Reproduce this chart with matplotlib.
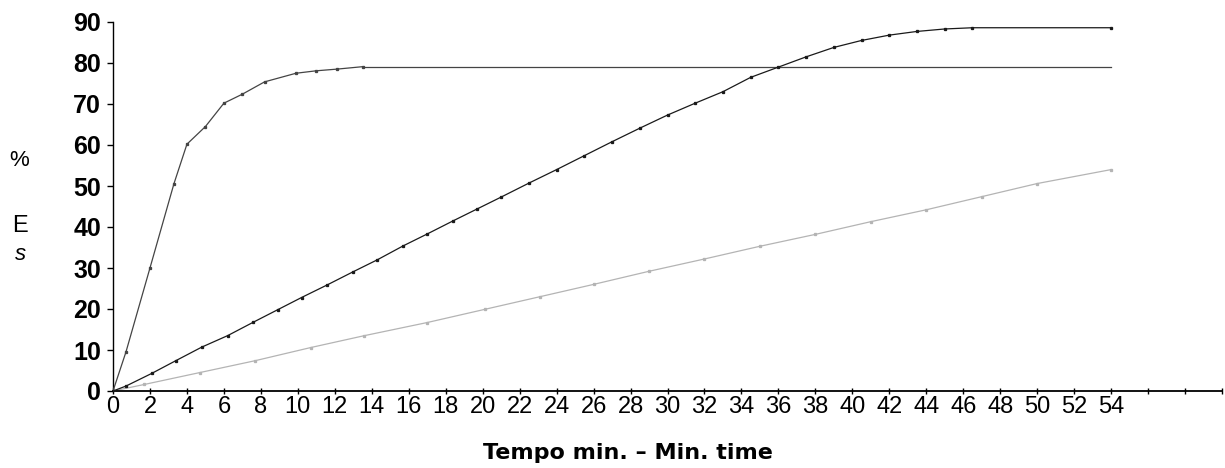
import matplotlib.pyplot as plt

# courbe rapide (monte vite puis plateau vers 79)
fast_x = [0, 0.7, 2.0, 3.3, 4.0, 5.0, 6.0, 7.0, 8.2, 9.9, 11.0, 12.1, 13.5, 20, 30, 40, 54]
fast_y = [0, 9.5, 30.0, 50.6, 60.2, 64.5, 70.2, 72.4, 75.4, 77.5, 78.1, 78.5, 79.1, 79.1, 79.1, 79.1, 79.1]

# courbe intermediaire (presque lineaire puis plateau vers 88.5)
mid_x = [0, 0.7, 2.1, 3.4, 4.8, 6.2, 7.6, 8.9, 10.2, 11.6, 13.0, 14.3, 15.7, 17.0, 18.4, 19.7,
         21.0, 22.5, 24.0, 25.5, 27.0, 28.5, 30.0, 31.5, 33.0, 34.5, 36.0, 37.5, 39.0, 40.5,
         42.0, 43.5, 45.0, 46.5, 54.0]
mid_y = [0, 1.2, 4.3, 7.4, 10.7, 13.5, 16.8, 19.8, 22.8, 25.9, 29.1, 32.0, 35.4, 38.3, 41.5, 44.4,
         47.3, 50.7, 54.0, 57.4, 60.8, 64.1, 67.3, 70.2, 73.0, 76.5, 79.0, 81.5, 83.8, 85.5,
         86.8, 87.7, 88.3, 88.6, 88.6]

# courbe grise (lineaire jusqu'a 54)
gray_x = [0, 1.7, 4.7, 7.7, 10.7, 13.6, 17.0, 20.1, 23.1, 26.0, 29.0, 32.0, 35.0, 38.0, 41.0, 44.0, 47.0, 50.0, 54.0]
gray_y = [0, 1.6, 4.5, 7.4, 10.6, 13.5, 16.7, 19.9, 23.0, 26.0, 29.2, 32.2, 35.3, 38.2, 41.3, 44.2, 47.4, 50.6, 54.0]

x_ticks = list(range(0, 61, 2))
x_labels = [str(t) if t <= 54 else '' for t in x_ticks]
y_ticks = list(range(0, 91, 10))

fig = plt.figure(figsize=(12.25, 4.68), dpi=100)
ax = fig.add_axes([113 / 1225, 1 - 391 / 468, 1109 / 1225, 369 / 468])

ax.plot(gray_x, gray_y, color='#b4b4b4', lw=0.9, marker='s', ms=1.4, zorder=2)
ax.plot(fast_x[:13], fast_y[:13], color='#444444', lw=0.9, marker='s', ms=1.4, zorder=3)
ax.plot(fast_x[12:], fast_y[12:], color='#444444', lw=0.9, zorder=3)
ax.plot(mid_x, mid_y, color='#1a1a1a', lw=0.9, marker='s', ms=1.4, zorder=4)

ax.set_xlim(0, 60)
ax.set_ylim(0, 90)
ax.set_xticks(x_ticks)
ax.set_xticklabels(x_labels, family='Liberation Sans', fontsize=17)
ax.set_yticks(y_ticks)
ax.set_yticklabels([str(t) for t in y_ticks], family='Liberation Sans', fontsize=18, fontweight='bold')

ax.spines['top'].set_visible(False)
ax.spines['right'].set_visible(False)
ax.spines['left'].set_linewidth(1.0)
ax.spines['bottom'].set_linewidth(1.3)
ax.tick_params(axis='y', direction='out', length=4.5, width=1.0, pad=4)
ax.tick_params(axis='x', direction='inout', length=5, width=1.0, pad=1)

# etiquette de l'axe y, lettres empilees
fig.text(19 / 1225, 1 - 161 / 468, '%', family='Liberation Sans', fontsize=16, ha='center', va='center')
fig.text(20 / 1225, 1 - 226 / 468, 'E', family='Liberation Sans', fontsize=17, ha='center', va='center')
fig.text(20 / 1225, 1 - 255 / 468, 's', family='Liberation Sans', fontsize=16, style='italic',
         ha='center', va='center')

fig.text(628 / 1225, 1 - 459 / 468, 'Tempo min. \u2013 Min. time', family='DejaVu Sans',
         fontsize=16, fontweight='bold', ha='center', va='baseline')

fig.savefig('out.png', dpi=100)
